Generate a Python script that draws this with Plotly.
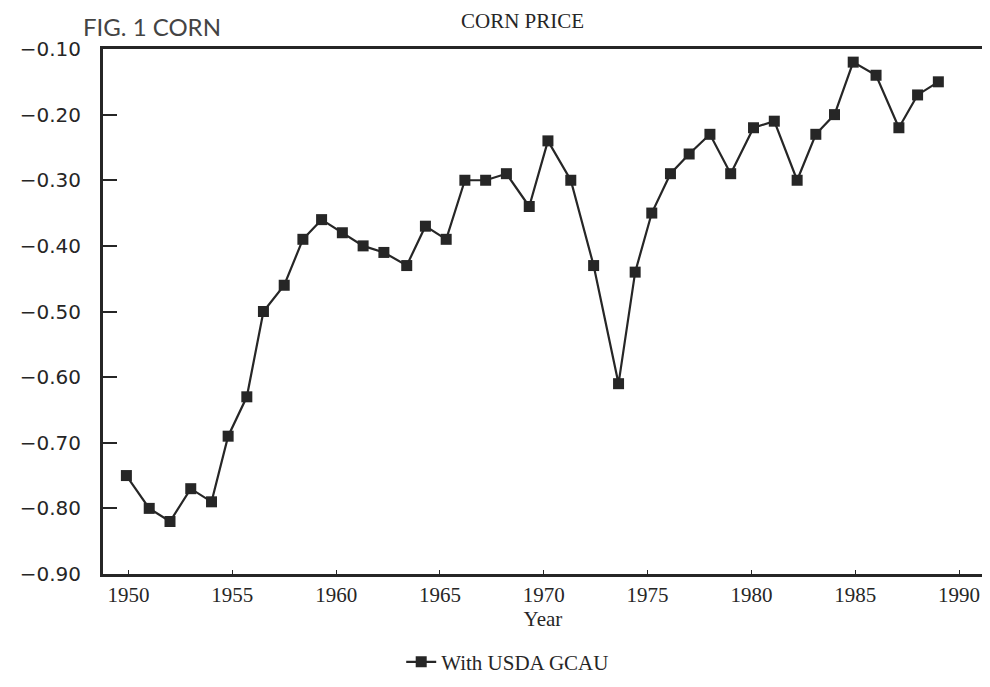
import plotly.graph_objects as go

years = [1949.9, 1951.0, 1952.0, 1953.0, 1954.0, 1954.8, 1955.7, 1956.5, 1957.5, 1958.4,
         1959.3, 1960.3, 1961.3, 1962.3, 1963.4, 1964.3, 1965.3, 1966.2, 1967.2, 1968.2,
         1969.3, 1970.2, 1971.3, 1972.4, 1973.6, 1974.4, 1975.2, 1976.1, 1977.0, 1978.0,
         1979.0, 1980.1, 1981.1, 1982.2, 1983.1, 1984.0, 1984.9, 1986.0, 1987.1, 1988.0,
         1989.0]
# Corn price values (With USDA GCAU)
values = [-0.75, -0.80, -0.82, -0.77, -0.79, -0.69, -0.63, -0.50, -0.46, -0.39,
          -0.36, -0.38, -0.40, -0.41, -0.43, -0.37, -0.39, -0.30, -0.30, -0.29,
          -0.34, -0.24, -0.30, -0.43, -0.61, -0.44, -0.35, -0.29, -0.26, -0.23,
          -0.29, -0.22, -0.21, -0.30, -0.23, -0.20, -0.12, -0.14, -0.22, -0.17,
          -0.15]
x_ticks = [1950, 1955, 1960, 1965, 1970, 1975, 1980, 1985, 1990]
y_ticks = [-0.90, -0.80, -0.70, -0.60, -0.50, -0.40, -0.30, -0.20, -0.10]
series_name = "With USDA GCAU"

ink = "#262626"
serif = "Liberation Serif"
y_range = [-0.90, -0.10]

fig = go.Figure()
fig.add_trace(go.Scatter(
    x=years, y=values, mode="lines+markers", name=series_name,
    line=dict(color=ink, width=2.2),
    marker=dict(symbol="square", size=11, color=ink),
))
# invisible companion trace so the label axis (set a little apart from the frame) is drawn
fig.add_trace(go.Scatter(
    x=years, y=values, yaxis="y2", mode="lines", showlegend=False,
    hoverinfo="skip", line=dict(color="rgba(0,0,0,0)", width=0),
))

fig.update_layout(
    width=990, height=687,
    margin=dict(l=72, r=14, t=41, b=116),
    paper_bgcolor="white", plot_bgcolor="white",
    showlegend=True,
    legend=dict(orientation="h", x=0.355, y=-0.168, xanchor="left", yanchor="middle",
                font=dict(family=serif, size=21, color=ink), bgcolor="rgba(0,0,0,0)"),
    xaxis=dict(domain=[0.0243, 1], range=[1948.77, 1991.15], tickvals=x_ticks,
               ticks="inside", ticklen=4,
               tickwidth=1, tickcolor=ink, showgrid=False, zeroline=False,
               showline=True, linecolor=ink, linewidth=3, mirror=True,
               tickfont=dict(family=serif, size=21, color=ink),
               title=dict(text="Year", font=dict(family=serif, size=21, color=ink), standoff=0)),
    yaxis=dict(range=y_range, tickvals=y_ticks, ticks="inside", showticklabels=False,
               ticklen=14, tickwidth=2, tickcolor=ink, showgrid=False, zeroline=False,
               showline=True, linecolor=ink, linewidth=3, mirror=True),
    yaxis2=dict(range=y_range, tickvals=y_ticks, tickformat=".2f", overlaying="y",
                anchor="free", position=0, side="left", ticks="", showline=False,
                showgrid=False, zeroline=False,
                tickfont=dict(family="DejaVu Sans", size=20, color=ink)),
    annotations=[
        dict(text="CORN PRICE", xref="paper", yref="paper", x=0.49, y=1.054,
             xanchor="center", yanchor="middle", showarrow=False,
             font=dict(family=serif, size=21, color=ink)),
        dict(text="FIG. 1 CORN", xref="paper", yref="paper", x=0.0, y=1.012,
             xanchor="left", yanchor="bottom", showarrow=False,
             font=dict(family="Lato", size=24, color="#444444")),
    ],
)

fig.write_html("out.html")
